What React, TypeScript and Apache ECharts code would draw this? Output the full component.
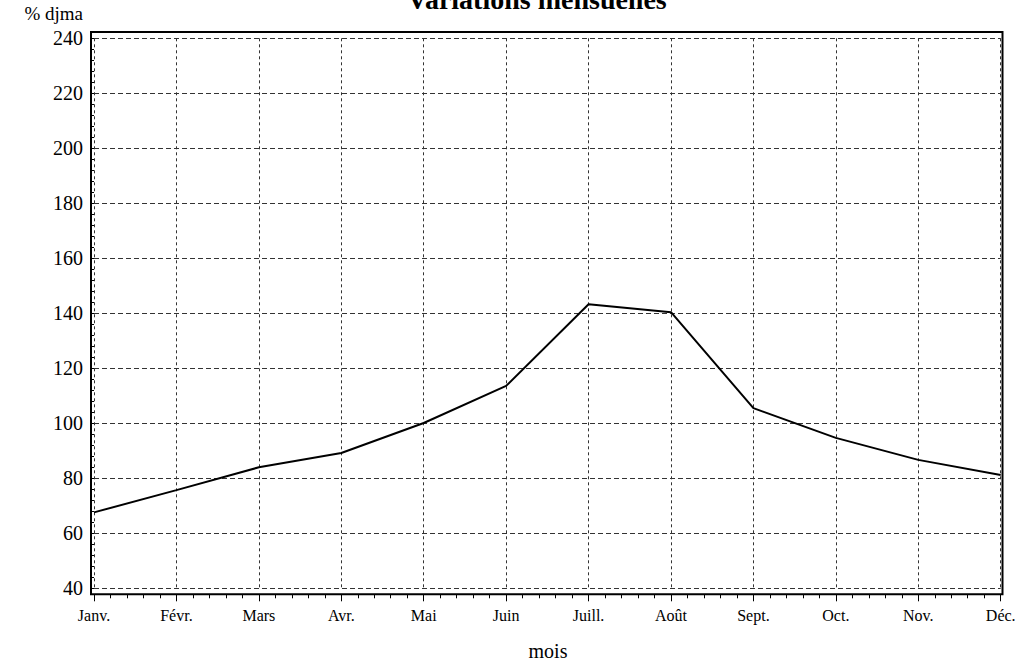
import React, { useEffect, useRef } from "react";
import * as echarts from "echarts";

const months = ["Janv.", "Févr.", "Mars", "Avr.", "Mai", "Juin", "Juill.", "Août", "Sept.", "Oct.", "Nov.", "Déc."];
const values = [67.6, 75.7, 84.0, 89.2, 100.1, 113.6, 143.3, 140.4, 105.5, 94.7, 86.7, 81.2];
const yTicks = { min: 40, max: 240, step: 20 };
const titleText = "Variations mensuelles";
const yName = "% djma";
const xName = "mois";

const FONT = "'Liberation Serif', 'Times New Roman', serif";

export default function App() {
  const ref = useRef<HTMLDivElement>(null);
  useEffect(() => {
    if (!ref.current) return;
    const chart = echarts.init(ref.current, null, { renderer: "svg" });
    const data = values.map((v, i) => [i, v]);
    chart.setOption({
      animation: false,
      backgroundColor: "#ffffff",
      grid: { left: 94, right: 19.3, top: 38.3, bottom: 77.7, containLabel: false },
      xAxis: {
        type: "value",
        min: 0,
        max: months.length - 1,
        interval: 1,
        offset: 6,
        axisLine: { show: false },
        axisTick: { show: true, length: 7, lineStyle: { color: "#000", width: 1 } },
        minorTick: { show: true, splitNumber: 5, length: 4, lineStyle: { color: "#000", width: 1 } },
        axisLabel: {
          formatter: (v: number) => months[Math.round(v)] ?? "",
          fontFamily: FONT,
          fontSize: 16,
          color: "#000",
          margin: 13,
        },
        splitLine: { show: true, lineStyle: { color: "#333", type: [3, 3], width: 1 } },
      },
      yAxis: {
        type: "value",
        min: yTicks.min,
        max: yTicks.max,
        interval: yTicks.step,
        offset: 3,
        axisLine: { show: false },
        axisTick: { show: true, length: 4, lineStyle: { color: "#000", width: 1 } },
        minorTick: { show: true, splitNumber: 5, length: 3, lineStyle: { color: "#000", width: 1 } },
        axisLabel: { fontFamily: FONT, fontSize: 20, color: "#000", margin: 8 },
        splitLine: { show: true, lineStyle: { color: "#333", type: [5, 3], width: 1 } },
      },
      series: [
        {
          type: "line",
          data,
          symbol: "none",
          lineStyle: { color: "#000", width: 2 },
          z: 5,
        },
      ],
      graphic: [
        {
          type: "rect",
          shape: { x: 91, y: 32, width: 911.5, height: 562.3 },
          style: { fill: "none", stroke: "#000", lineWidth: 2 },
          z: 10,
        },
        {
          type: "text",
          x: 537,
          y: -0.5,
          style: {
            text: titleText,
            fontFamily: FONT,
            fontWeight: "bold",
            fontSize: 28,
            fill: "#000",
            align: "center",
            verticalAlign: "middle",
          },
        },
        {
          type: "text",
          x: 83,
          y: 13,
          style: {
            text: yName,
            fontFamily: FONT,
            fontSize: 19,
            fill: "#000",
            align: "right",
            verticalAlign: "middle",
          },
        },
        {
          type: "text",
          x: 548,
          y: 651,
          style: {
            text: xName,
            fontFamily: FONT,
            fontSize: 20,
            fill: "#000",
            align: "center",
            verticalAlign: "middle",
          },
        },
      ],
    });
    return () => chart.dispose();
  }, []);
  return (
    <div
      ref={ref}
      style={{ position: "fixed", left: 0, top: 0, width: 1020, height: 666, background: "#fff" }}
    />
  );
}
